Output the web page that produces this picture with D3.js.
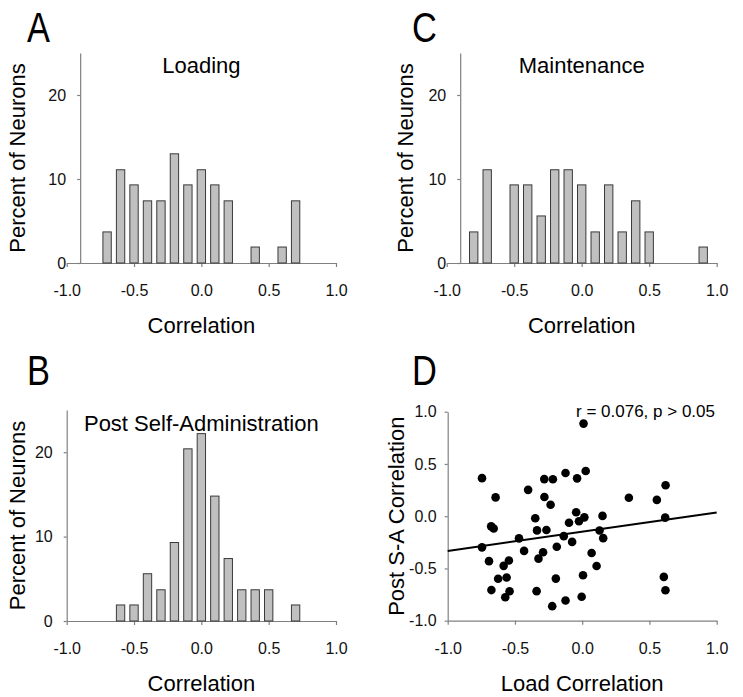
<!DOCTYPE html>
<html><head><meta charset="utf-8">
<script src="https://cdn.jsdelivr.net/npm/d3@7"></script>
<style>
html,body{margin:0;padding:0;background:#fff;}
svg{display:block;font-family:"Liberation Sans",Arial,sans-serif;}
</style></head>
<body><svg id="chart" width="743" height="697"></svg>
<script>
// ---- data ----
const xTicks = [-1.0, -0.5, 0.0, 0.5, 1.0];
const histYTicks = [0, 10, 20];
const scatYTicks = [-1.0, -0.5, 0.0, 0.5, 1.0];

const loadingBins = [-0.7,-0.6,-0.5,-0.4,-0.3,-0.2,-0.1,0.0,0.1,0.2,0.4,0.6,0.7];
const loadingPct  = [3.7,11.1,9.3,7.4,7.4,13.0,9.3,11.1,9.3,7.4,1.9,1.9,7.4];

const maintBins = [-0.8,-0.7,-0.5,-0.4,-0.3,-0.2,-0.1,0.0,0.1,0.2,0.3,0.4,0.5,0.9];
const maintPct  = [3.7,11.1,9.3,9.3,5.6,11.1,11.1,9.3,3.7,9.3,3.7,7.4,3.7,1.9];

const postBins = [-0.6,-0.5,-0.4,-0.3,-0.2,-0.1,0.0,0.1,0.2,0.3,0.4,0.5,0.7];
const postPct  = [1.9,1.9,5.6,3.7,9.3,20.4,22.2,14.8,7.4,3.7,3.7,3.7,1.9];

const loadCorr = [-0.745,-0.644,-0.677,-0.658,-0.745,-0.693,-0.675,-0.584,-0.545,-0.625,-0.562,-0.540,-0.572,
  -0.470,-0.432,-0.402,-0.349,-0.336,-0.325,-0.291,-0.339,-0.282,-0.218,-0.281,-0.235,-0.266,-0.189,-0.196,-0.223,
  -0.124,-0.038,0.026,0.010,-0.045,-0.098,-0.024,0.016,-0.137,-0.075,-0.124,-0.004,0.006,0.070,0.107,0.129,0.151,0.156,
  0.347,0.555,0.620,0.617,0.607,0.619];
const postCorr = [0.364,0.180,-0.097,-0.117,-0.298,-0.430,-0.707,-0.475,-0.424,-0.599,-0.586,-0.718,-0.775,
  -0.212,-0.332,0.252,-0.020,-0.136,-0.406,-0.345,-0.717,0.355,0.354,0.184,0.110,-0.132,-0.293,-0.597,-0.861,
  0.414,0.362,0.432,0.886,0.038,-0.062,-0.048,-0.011,-0.191,-0.246,-0.806,-0.771,-0.565,-0.352,-0.477,-0.137,0.003,-0.210,
  0.177,0.156,0.296,-0.014,-0.581,-0.708];
const fitLineX = [-1.0, 1.0];
const fitLineY = [-0.332, 0.035];

// ---- drawing ----
const svg = d3.select("#chart");
const AXIS_COL = "#808080";
const fmt = d => d.toFixed(1).replace("\u2212","-");

function styleAxis(g){
  g.selectAll(".domain").attr("stroke", AXIS_COL).attr("stroke-width", 1.2);
  g.selectAll(".tick line").attr("stroke", AXIS_COL).attr("stroke-width", 1.2);
  g.selectAll(".tick text").attr("fill", "#111").style("font-size", "16px")
    .style("font-family", '"Liberation Sans", Arial, sans-serif');
}

function panelLetter(txt, x, y){
  svg.append("text").attr("transform", `translate(${x},${y}) scale(0.82,1)`)
    .style("font-size", "42px").attr("fill", "#000").text(txt);
}

function xLabel(txt, x, y){
  svg.append("text").attr("x", x).attr("y", y).attr("text-anchor", "middle")
    .style("font-size", "22px").attr("fill", "#000").text(txt);
}
function yLabel(txt, x, y){
  svg.append("text").attr("transform", `translate(${x},${y}) rotate(-90)`)
    .attr("text-anchor", "middle").style("font-size", "22px").attr("fill", "#000").text(txt);
}

function histogram(opts){
  const x = d3.scaleLinear().domain([-1, 1]).range([opts.x0, opts.x1]);
  const y = d3.scaleLinear().domain([0, 25]).range([opts.yb, opts.yt]);
  const g = svg.append("g");
  const yAxisX = x(opts.yAxisAt);
  const gx = g.append("g").attr("transform", `translate(0,${opts.yb})`)
    .call(d3.axisBottom(x).tickValues(xTicks).tickFormat(fmt).tickSizeInner(4).tickSizeOuter(0).tickPadding(18));
  styleAxis(gx);
  const gy = g.append("g").attr("transform", `translate(${yAxisX},0)`)
    .call(d3.axisLeft(y).tickValues(histYTicks).tickFormat(d3.format("d")).tickSizeInner(3).tickSizeOuter(0).tickPadding(11));
  styleAxis(gy);
  const half = 0.031;
  g.selectAll("rect.bar").data(opts.bins.map((b,i)=>({b, v: opts.vals[i]})))
    .join("rect").attr("class","bar")
    .attr("x", d => x(d.b - half)).attr("width", d => x(d.b + half) - x(d.b - half))
    .attr("y", d => y(d.v)).attr("height", d => y(0) - y(d.v))
    .attr("fill", "#c0c0c0").attr("stroke", "#3a3a3a").attr("stroke-width", 1);
  g.append("text").attr("x", x(0)).attr("y", opts.titleY).attr("text-anchor", "middle")
    .style("font-size", "22px").attr("fill", "#000").text(opts.title);
  xLabel("Correlation", x(0), opts.yb + 70);
  yLabel("Percent of Neurons", opts.yLabelX, (opts.yb + opts.yt) / 2);
  panelLetter(opts.letter, opts.letterX, opts.letterY);
}

histogram({letter:"A", letterX:27, letterY:42, title:"Loading", titleY:73,
  x0:66.7, x1:336, yb:263, yt:53, yAxisAt:-0.9, bins:loadingBins, vals:loadingPct, yLabelX:25});
histogram({letter:"C", letterX:412, letterY:42, title:"Maintenance", titleY:73,
  x0:446.7, x1:716.7, yb:263, yt:53, yAxisAt:-0.9, bins:maintBins, vals:maintPct, yLabelX:413});
histogram({letter:"B", letterX:27, letterY:385, title:"Post Self-Administration", titleY:431,
  x0:66.7, x1:336, yb:621, yt:410, yAxisAt:-1.0, bins:postBins, vals:postPct, yLabelX:25});

(function(){
  const x = d3.scaleLinear().domain([-1, 1]).range([447.7, 716.7]);
  const y = d3.scaleLinear().domain([-1, 1]).range([620.7, 411.7]);
  const g = svg.append("g");
  const gx = g.append("g").attr("transform", `translate(0,${y(-1)})`)
    .call(d3.axisBottom(x).tickValues(xTicks).tickFormat(fmt).tickSizeInner(4).tickSizeOuter(0).tickPadding(18));
  styleAxis(gx);
  const gy = g.append("g").attr("transform", `translate(${x(-1)},0)`)
    .call(d3.axisLeft(y).tickValues(scatYTicks).tickFormat(fmt).tickSizeInner(3).tickSizeOuter(0).tickPadding(8));
  styleAxis(gy);
  g.append("line").attr("x1", x(fitLineX[0])).attr("y1", y(fitLineY[0]))
    .attr("x2", x(fitLineX[1])).attr("y2", y(fitLineY[1]))
    .attr("stroke", "#000").attr("stroke-width", 2);
  g.selectAll("circle").data(loadCorr.map((v,i)=>[v, postCorr[i]])).join("circle")
    .attr("cx", d => x(d[0])).attr("cy", d => y(d[1])).attr("r", 4.3).attr("fill", "#000");
  g.append("text").attr("x", 715).attr("y", 417).attr("text-anchor", "end")
    .style("font-size", "17px").attr("fill", "#000").text("r = 0.076, p > 0.05");
  xLabel("Load Correlation", x(0), y(-1) + 70);
  yLabel("Post S-A Correlation", 404, (y(-1) + y(1)) / 2);
  panelLetter("D", 412, 385);
})();
</script></body></html>
